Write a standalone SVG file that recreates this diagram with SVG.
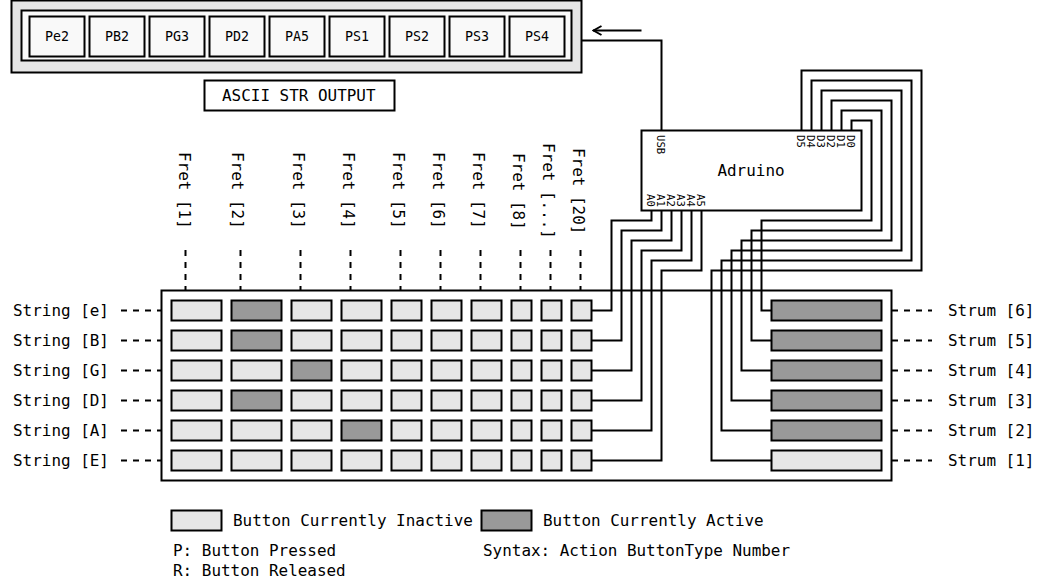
<svg xmlns="http://www.w3.org/2000/svg" width="1053" height="582" viewBox="0 0 1053 582">
<style>
text{font-family:"DejaVu Sans Mono","Liberation Mono",monospace;fill:#000;font-size:15.95px}
.s{font-size:13.3px;text-anchor:middle}
.p{font-size:10.6px}
rect{stroke:#000;stroke-width:2}
.off{fill:#e6e6e6}.on{fill:#999}.b{fill:#fff}.f{fill:#f9f9f9}
.w{fill:none;stroke:#000;stroke-width:2}
.d{fill:none;stroke:#000;stroke-width:2;stroke-dasharray:6 6}
</style>
<defs>
<marker id="a" viewBox="0 0 12 12" refX="11" refY="6" markerWidth="12" markerHeight="12" markerUnits="userSpaceOnUse" orient="auto"><path d="M2.5 1.5 L10.5 6 L2.5 10.5" fill="none" stroke="#000" stroke-width="2"/></marker>
</defs>
<g id="output">
<rect class="off" x="11.5" y="0.5" width="570" height="72"/>
<rect class="f" x="21.5" y="10.5" width="550" height="50"/>
<rect class="f" x="29.5" y="16.5" width="55" height="40"/><rect class="f" x="89.5" y="16.5" width="55" height="40"/><rect class="f" x="149.5" y="16.5" width="55" height="40"/><rect class="f" x="209.5" y="16.5" width="55" height="40"/><rect class="f" x="269.5" y="16.5" width="55" height="40"/><rect class="f" x="329.5" y="16.5" width="55" height="40"/><rect class="f" x="389.5" y="16.5" width="55" height="40"/><rect class="f" x="449.5" y="16.5" width="55" height="40"/><rect class="f" x="509.5" y="16.5" width="55" height="40"/>
<text class="s" x="57" y="41">Pe2</text><text class="s" x="117" y="41">PB2</text><text class="s" x="177" y="41">PG3</text><text class="s" x="237" y="41">PD2</text><text class="s" x="297" y="41">PA5</text><text class="s" x="357" y="41">PS1</text><text class="s" x="417" y="41">PS2</text><text class="s" x="477" y="41">PS3</text><text class="s" x="537" y="41">PS4</text>
</g>
<g id="output-label"><rect class="b" x="204.5" y="80.5" width="190" height="30"/><text x="222" y="101">ASCII STR OUTPUT</text></g>
<g id="panel"><rect class="b" x="161.5" y="290.5" width="730" height="190"/></g>
<g id="connectors">
<path class="w" d="M661.5 130.5V40.5H581.5"/>
<path class="w" d="M641.5 30.5H593" marker-end="url(#a)"/>
<path class="w" d="M851.5 130.5V120.5H871.5V220.5H761.5V310.5H771.5"/>
<path class="w" d="M841.5 130.5V110.5H881.5V230.5H751.5V340.5H771.5"/>
<path class="w" d="M831.5 130.5V100.5H891.5V240.5H741.5V370.5H771.5"/>
<path class="w" d="M821.5 130.5V90.5H901.5V250.5H731.5V400.5H771.5"/>
<path class="w" d="M811.5 130.5V80.5H911.5V260.5H721.5V430.5H771.5"/>
<path class="w" d="M801.5 130.5V70.5H921.5V270.5H711.5V460.5H771.5"/>
<path class="w" d="M651.5 210.5V220.5H611.5V310.5H591.5"/>
<path class="w" d="M661.5 210.5V230.5H621.5V340.5H591.5"/>
<path class="w" d="M671.5 210.5V240.5H631.5V370.5H591.5"/>
<path class="w" d="M681.5 210.5V250.5H641.5V400.5H591.5"/>
<path class="w" d="M691.5 210.5V260.5H651.5V430.5H591.5"/>
<path class="w" d="M701.5 210.5V270.5H661.5V460.5H591.5"/>
<path class="d" d="M185.5 250V290M240.5 250V290M300.5 250V290M350.5 250V290M400.5 250V290M440.5 250V290M480.5 250V290M520.5 250V290M550.5 250V290M580.5 250V290"/>
<path class="d" d="M121 310.5H161M121 340.5H161M121 370.5H161M121 400.5H161M121 430.5H161M121 460.5H161M892 310.5H932M892 340.5H932M892 370.5H932M892 400.5H932M892 430.5H932M892 460.5H932"/>
</g>
<g id="adruino"><rect class="b" x="641.5" y="130.5" width="220" height="80"/>
<text x="751" y="176" text-anchor="middle">Adruino</text>
<text class="p" transform="translate(657 135) rotate(90)">USB</text><text class="p" transform="translate(847 135) rotate(90)">D0</text><text class="p" transform="translate(837 135) rotate(90)">D1</text><text class="p" transform="translate(827 135) rotate(90)">D2</text><text class="p" transform="translate(817 135) rotate(90)">D3</text><text class="p" transform="translate(807 135) rotate(90)">D4</text><text class="p" transform="translate(797 135) rotate(90)">D5</text>
<text class="p" transform="translate(647 194) rotate(90)">A0</text><text class="p" transform="translate(657 194) rotate(90)">A1</text><text class="p" transform="translate(667 194) rotate(90)">A2</text><text class="p" transform="translate(677 194) rotate(90)">A3</text><text class="p" transform="translate(687 194) rotate(90)">A4</text><text class="p" transform="translate(697 194) rotate(90)">A5</text></g>
<g id="fret-labels">
<text transform="translate(179 152) rotate(90)">Fret [1]</text><text transform="translate(232 152) rotate(90)">Fret [2]</text><text transform="translate(293 152) rotate(90)">Fret [3]</text><text transform="translate(343 152) rotate(90)">Fret [4]</text><text transform="translate(393 152) rotate(90)">Fret [5]</text><text transform="translate(433 152) rotate(90)">Fret [6]</text><text transform="translate(473 152) rotate(90)">Fret [7]</text><text transform="translate(513 153) rotate(90)">Fret [8]</text><text transform="translate(543 143) rotate(90)">Fret [...]</text><text transform="translate(573 148) rotate(90)">Fret [20]</text>
</g>
<g id="string-labels">
<text x="13" y="316">String [e]</text><text x="13" y="346">String [B]</text><text x="13" y="376">String [G]</text><text x="13" y="406">String [D]</text><text x="13" y="436">String [A]</text><text x="13" y="466">String [E]</text>
</g>
<g id="strum-labels">
<text x="948" y="316">Strum [6]</text><text x="948" y="346">Strum [5]</text><text x="948" y="376">Strum [4]</text><text x="948" y="406">Strum [3]</text><text x="948" y="436">Strum [2]</text><text x="948" y="466">Strum [1]</text>
</g>
<g id="row-e">
<rect class="off" x="171.5" y="300.5" width="50" height="20"/><rect class="on" x="231.5" y="300.5" width="50" height="20"/><rect class="off" x="291.5" y="300.5" width="40" height="20"/><rect class="off" x="341.5" y="300.5" width="40" height="20"/><rect class="off" x="391.5" y="300.5" width="30" height="20"/><rect class="off" x="431.5" y="300.5" width="30" height="20"/><rect class="off" x="471.5" y="300.5" width="30" height="20"/><rect class="off" x="511.5" y="300.5" width="20" height="20"/><rect class="off" x="541.5" y="300.5" width="20" height="20"/><rect class="off" x="571.5" y="300.5" width="20" height="20"/>
</g>
<g id="row-B">
<rect class="off" x="171.5" y="330.5" width="50" height="20"/><rect class="on" x="231.5" y="330.5" width="50" height="20"/><rect class="off" x="291.5" y="330.5" width="40" height="20"/><rect class="off" x="341.5" y="330.5" width="40" height="20"/><rect class="off" x="391.5" y="330.5" width="30" height="20"/><rect class="off" x="431.5" y="330.5" width="30" height="20"/><rect class="off" x="471.5" y="330.5" width="30" height="20"/><rect class="off" x="511.5" y="330.5" width="20" height="20"/><rect class="off" x="541.5" y="330.5" width="20" height="20"/><rect class="off" x="571.5" y="330.5" width="20" height="20"/>
</g>
<g id="row-G">
<rect class="off" x="171.5" y="360.5" width="50" height="20"/><rect class="off" x="231.5" y="360.5" width="50" height="20"/><rect class="on" x="291.5" y="360.5" width="40" height="20"/><rect class="off" x="341.5" y="360.5" width="40" height="20"/><rect class="off" x="391.5" y="360.5" width="30" height="20"/><rect class="off" x="431.5" y="360.5" width="30" height="20"/><rect class="off" x="471.5" y="360.5" width="30" height="20"/><rect class="off" x="511.5" y="360.5" width="20" height="20"/><rect class="off" x="541.5" y="360.5" width="20" height="20"/><rect class="off" x="571.5" y="360.5" width="20" height="20"/>
</g>
<g id="row-D">
<rect class="off" x="171.5" y="390.5" width="50" height="20"/><rect class="on" x="231.5" y="390.5" width="50" height="20"/><rect class="off" x="291.5" y="390.5" width="40" height="20"/><rect class="off" x="341.5" y="390.5" width="40" height="20"/><rect class="off" x="391.5" y="390.5" width="30" height="20"/><rect class="off" x="431.5" y="390.5" width="30" height="20"/><rect class="off" x="471.5" y="390.5" width="30" height="20"/><rect class="off" x="511.5" y="390.5" width="20" height="20"/><rect class="off" x="541.5" y="390.5" width="20" height="20"/><rect class="off" x="571.5" y="390.5" width="20" height="20"/>
</g>
<g id="row-A">
<rect class="off" x="171.5" y="420.5" width="50" height="20"/><rect class="off" x="231.5" y="420.5" width="50" height="20"/><rect class="off" x="291.5" y="420.5" width="40" height="20"/><rect class="on" x="341.5" y="420.5" width="40" height="20"/><rect class="off" x="391.5" y="420.5" width="30" height="20"/><rect class="off" x="431.5" y="420.5" width="30" height="20"/><rect class="off" x="471.5" y="420.5" width="30" height="20"/><rect class="off" x="511.5" y="420.5" width="20" height="20"/><rect class="off" x="541.5" y="420.5" width="20" height="20"/><rect class="off" x="571.5" y="420.5" width="20" height="20"/>
</g>
<g id="row-E">
<rect class="off" x="171.5" y="450.5" width="50" height="20"/><rect class="off" x="231.5" y="450.5" width="50" height="20"/><rect class="off" x="291.5" y="450.5" width="40" height="20"/><rect class="off" x="341.5" y="450.5" width="40" height="20"/><rect class="off" x="391.5" y="450.5" width="30" height="20"/><rect class="off" x="431.5" y="450.5" width="30" height="20"/><rect class="off" x="471.5" y="450.5" width="30" height="20"/><rect class="off" x="511.5" y="450.5" width="20" height="20"/><rect class="off" x="541.5" y="450.5" width="20" height="20"/><rect class="off" x="571.5" y="450.5" width="20" height="20"/>
</g>
<g id="strums">
<rect class="on" x="771.5" y="300.5" width="110" height="20"/><rect class="on" x="771.5" y="330.5" width="110" height="20"/><rect class="on" x="771.5" y="360.5" width="110" height="20"/><rect class="on" x="771.5" y="390.5" width="110" height="20"/><rect class="on" x="771.5" y="420.5" width="110" height="20"/><rect class="off" x="771.5" y="450.5" width="110" height="20"/>
</g>
<g id="legend">
<rect class="off" x="171.5" y="510.5" width="50" height="20"/><text x="233" y="526">Button Currently Inactive</text>
<rect class="on" x="481.5" y="510.5" width="50" height="20"/><text x="543" y="526">Button Currently Active</text>
<text x="173" y="556">P: Button Pressed</text><text x="173" y="576">R: Button Released</text><text x="483" y="556">Syntax: Action ButtonType Number</text>
</g>
</svg>
